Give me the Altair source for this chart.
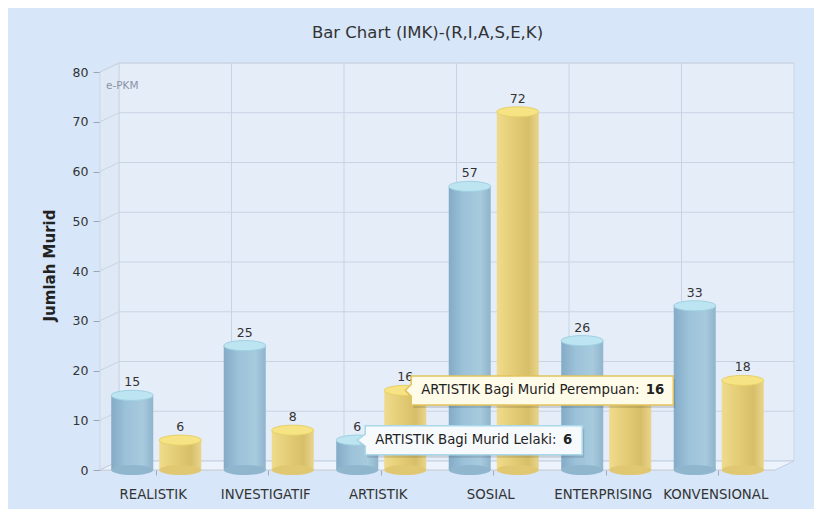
import altair as alt
import pandas as pd

categories = ["REALISTIK", "INVESTIGATIF", "ARTISTIK", "SOSIAL", "ENTERPRISING", "KONVENSIONAL"]
series_names = ["Murid Lelaki", "Murid Perempuan"]
lelaki = [15, 25, 6, 57, 26, 33]
perempuan = [6, 8, 16, 72, 15, 18]
y_ticks = [0, 10, 20, 30, 40, 50, 60, 70, 80]
title_text = "Bar Chart (IMK)-(R,I,A,S,E,K)"
y_title = "Jumlah Murid"
credit = "e-PKM"
tip_category = "ARTISTIK"
hidden_label = ("ENTERPRISING", "Murid Perempuan")  # covered by the tooltip in the reference

W, H = 675, 398
DX, DY = 19, 9
FONT = "DejaVu Sans"

rows = []
for c, a, b in zip(categories, lelaki, perempuan):
    rows.append({"cat": c, "series": series_names[0], "value": a})
    rows.append({"cat": c, "series": series_names[1], "value": b})
df = pd.DataFrame(rows)

x_scale = alt.Scale(domain=categories, paddingInner=0, paddingOuter=0)
x_axis = alt.Axis(title=None, labelAngle=0, labelColor="#333333", labelFontSize=13.3,
                  tickSize=5, tickColor="#a0aabb", labelPadding=12, domain=False, labelOffset=-3)
y_scale = alt.Scale(domain=[0, 80], nice=False)
y_axis = alt.Axis(values=y_ticks, title=y_title, tickSize=7, tickColor="#9aa6b8",
                  domainColor="#9aa6b8", labelColor="#333333", labelFontSize=12.5,
                  labelPadding=5, grid=False, titleFontSize=15, titleFontWeight="bold",
                  titleColor="#222222", titleX=-51, titleY=H / 2 - 6, titleAlign="center",
                  titleBaseline="middle")
xoff = alt.XOffset("series:N", scale=alt.Scale(domain=series_names, paddingInner=0.125, paddingOuter=0.234))

X = alt.X("cat:N", scale=x_scale, axis=x_axis, sort=categories)
Y = alt.Y("value:Q", scale=y_scale, axis=y_axis)

one = pd.DataFrame({"k": [0]})

# 3D frame
left_wall_path = f"M0,0 L{DX},{-DY} L{DX},{H - DY} L0,{H} Z"
floor_path = f"M0,{H} L{W},{H} L{W + DX},{H - DY} L{DX},{H - DY} Z"

back_wall = alt.Chart(one).mark_rect(fill="#e5edf9", stroke="#cbd6e5", strokeWidth=1).encode(
    x=alt.value(DX), x2=alt.value(W + DX), y=alt.value(-DY), y2=alt.value(H - DY))
left_wall = alt.Chart(one).mark_point(shape=left_wall_path, size=4, filled=True, color="#dfe8f5",
                                      fill="#dfe8f5", stroke="#cbd6e5", strokeWidth=1, opacity=1).encode(
    x=alt.value(0), y=alt.value(0))
floor = alt.Chart(one).mark_point(shape=floor_path, size=4, filled=True, color="#edf3fc",
                                  fill="#edf3fc", stroke="#c3cedd", strokeWidth=1, opacity=1).encode(
    x=alt.value(0), y=alt.value(0))

grid_df = pd.DataFrame({"value": y_ticks[1:]})
hgrid = alt.Chart(grid_df).mark_rule(color="#c9d4e3", strokeWidth=1, yOffset=-DY).encode(
    y=Y, x=alt.value(DX), x2=alt.value(W + DX))
diag = alt.Chart(grid_df).mark_rule(color="#c9d4e3", strokeWidth=1, y2Offset=-DY).encode(
    y=Y, y2="value:Q", x=alt.value(0), x2=alt.value(DX))
vgrid_df = pd.DataFrame({"cat": categories[1:]})
vgrid = alt.Chart(vgrid_df).mark_rule(color="#c9d4e3", strokeWidth=1, xOffset=DX).encode(
    x=alt.X("cat:N", scale=x_scale, axis=x_axis, sort=categories, bandPosition=0),
    y=alt.value(-DY), y2=alt.value(H - DY))

credit_txt = alt.Chart(one).mark_text(text=credit, align="left", baseline="middle", fontSize=10.5,
                                      color="#8a93a3", font=FONT).encode(
    x=alt.value(6), y=alt.value(14))

title_txt = alt.Chart(one).mark_text(text=title_text, align="center", baseline="middle", fontSize=16.5,
                                     color="#333333", font=FONT).encode(
    x=alt.value(W / 2 - 10), y=alt.value(-39))

# bars
blue_grad = alt.LinearGradient(gradient="linear", x1=0, x2=1, y1=0, y2=0, stops=[
    alt.GradientStop(color="#84abc7", offset=0),
    alt.GradientStop(color="#9cc2d9", offset=0.35),
    alt.GradientStop(color="#a7cadd", offset=0.75),
    alt.GradientStop(color="#8fb4cc", offset=1)])
yellow_grad = alt.LinearGradient(gradient="linear", x1=0, x2=1, y1=0, y2=0, stops=[
    alt.GradientStop(color="#efdb8c", offset=0),
    alt.GradientStop(color="#e5ce78", offset=0.35),
    alt.GradientStop(color="#d7be69", offset=0.75),
    alt.GradientStop(color="#e9d58c", offset=1)])

ellipse = ("M-1,0 C-1,-0.1325 -0.5523,-0.24 0,-0.24 C0.5523,-0.24 1,-0.1325 1,0 "
           "C1,0.1325 0.5523,0.24 0,0.24 C-0.5523,0.24 -1,0.1325 -1,0 Z")
ESIZE = 42 * 42

base = alt.Chart(df).encode(x=X, xOffset=xoff)

blue_bars = base.transform_filter(alt.datum.series == series_names[0]).mark_bar(color=blue_grad).encode(y=Y)
yellow_bars = base.transform_filter(alt.datum.series == series_names[1]).mark_bar(color=yellow_grad).encode(y=Y)

blue_bottom = base.transform_filter(alt.datum.series == series_names[0]).transform_calculate(zero="0").mark_point(
    shape=ellipse, size=ESIZE, filled=True, color="#90b6ce", opacity=1).encode(y=alt.Y("zero:Q", scale=y_scale, axis=y_axis))
yellow_bottom = base.transform_filter(alt.datum.series == series_names[1]).transform_calculate(zero="0").mark_point(
    shape=ellipse, size=ESIZE, filled=True, color="#e0c873", opacity=1).encode(y=alt.Y("zero:Q", scale=y_scale, axis=y_axis))

blue_top = base.transform_filter(alt.datum.series == series_names[0]).mark_point(
    shape=ellipse, size=ESIZE, filled=True, color="#bde5f1", stroke="#9fd0e3", strokeWidth=1, opacity=1).encode(y=Y)
yellow_top = base.transform_filter(alt.datum.series == series_names[1]).mark_point(
    shape=ellipse, size=ESIZE, filled=True, color="#f6e383", stroke="#e6d06a", strokeWidth=1, opacity=1).encode(y=Y)

labels = base.transform_filter(
    ~((alt.datum.cat == hidden_label[0]) & (alt.datum.series == hidden_label[1]))
).mark_text(baseline="bottom", dy=-6, fontSize=12.5, color="#333333", font=FONT).encode(
    y=Y, text="value:Q")

# tooltips
tips = df[df["cat"] == tip_category].copy()
tips["label"] = tips["cat"] + " Bagi " + tips["series"] + ":"
tips_base = alt.Chart(tips).encode(x=X, xOffset=xoff, y=Y)


def box_path(x0, x1, h, sx=0, sy=0):
    return (f"M{sx},{sy} L{x0 + sx},{-6 + sy} L{x0 + sx},{-h + sy} L{x1 + sx},{-h + sy} "
            f"L{x1 + sx},{h + sy} L{x0 + sx},{h + sy} L{x0 + sx},{6 + sy} Z")


tip_layers = []
tip_specs = [
    (series_names[0], 8, 225, "#f7fafd", "#a9d8ea", 18, 215),
    (series_names[1], 6, 268, "#fffbe9", "#e2c45c", 16, 259),
]
for s, x0, x1, fill, stroke, tx, vx in tip_specs:
    tb = tips_base.transform_filter(alt.datum.series == s)
    tip_layers.append(tb.mark_point(shape=box_path(x0, x1, 14.5, 2, 3), size=4, filled=True, color="#000000",
                                    opacity=0.12))
    tip_layers.append(tb.mark_point(shape=box_path(x0, x1, 14.5), size=4, filled=True, color=fill, fill=fill,
                                    stroke=stroke, strokeWidth=1.5, opacity=1))
    tip_layers.append(tb.mark_text(align="left", baseline="middle", dx=tx, fontSize=13.3, color="#222222",
                                   font=FONT).encode(text="label:N"))
    tip_layers.append(tb.mark_text(align="right", baseline="middle", dx=vx, fontSize=13.3, fontWeight="bold",
                                   color="#222222", font=FONT).encode(text="value:Q"))

chart = alt.layer(
    back_wall, left_wall, floor, hgrid, diag, vgrid, credit_txt, title_txt,
    blue_bars, yellow_bars, blue_bottom, yellow_bottom, blue_top, yellow_top, labels,
    *tip_layers
).properties(
    width=W, height=H,
    background="#d7e6f8",
    padding={"left": 92, "top": 64, "right": 39, "bottom": 39},
    autosize=alt.AutoSizeParams(type="none"),
).configure_view(stroke=None).configure(font=FONT)

chart.save("out.html", embed_options={"renderer": "svg", "actions": False})
